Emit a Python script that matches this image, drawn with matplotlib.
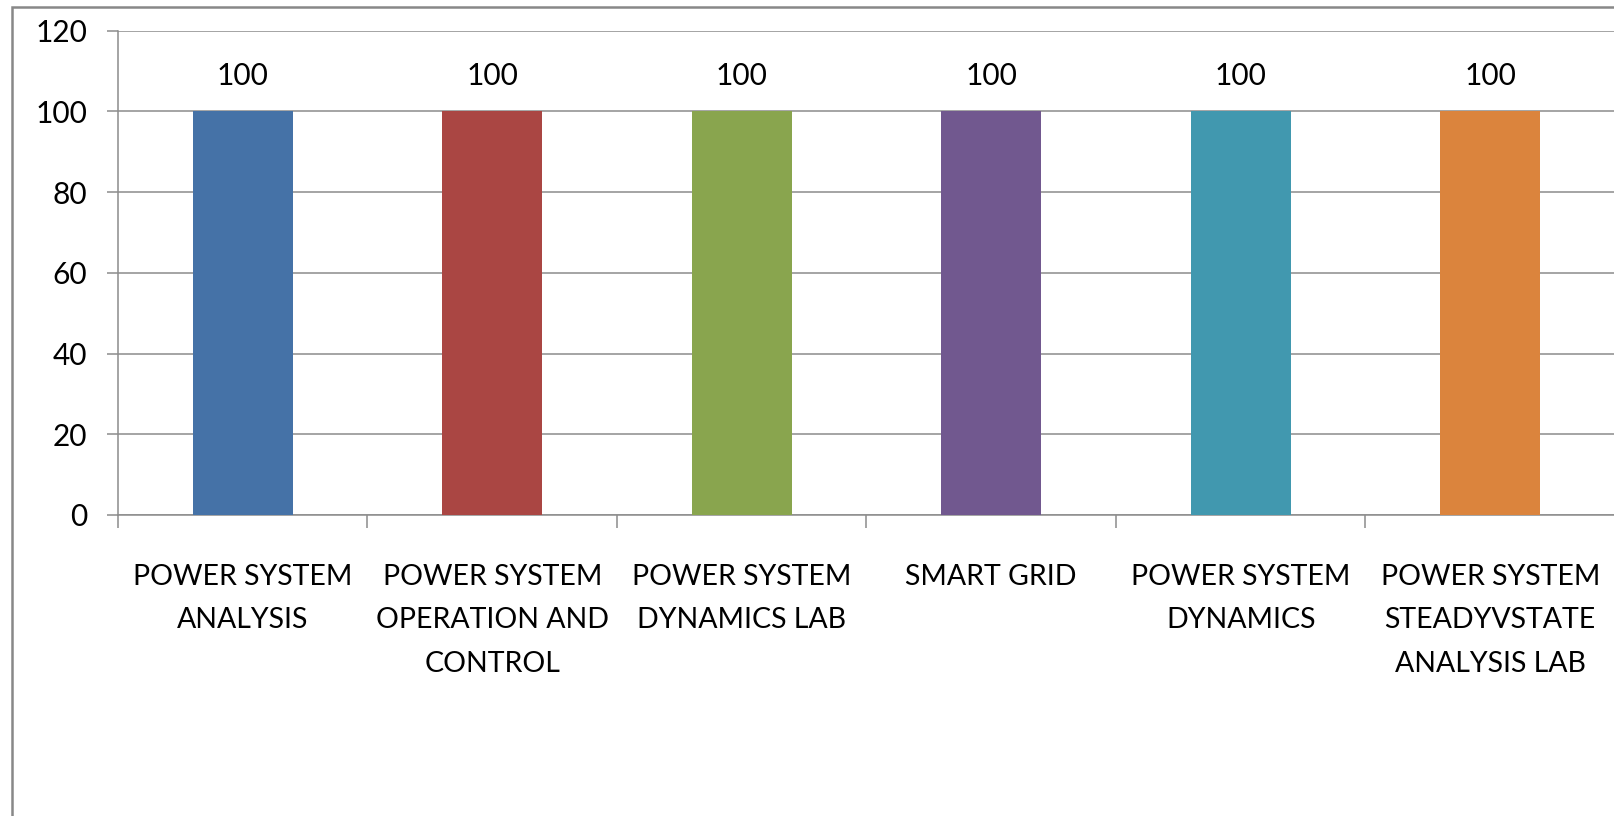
"""
Bar chart: pass percentage per power-system subject.
"""

import matplotlib
matplotlib.use('Agg')
import matplotlib.pyplot as plt
from matplotlib.patches import Rectangle
import numpy as np


subjects = ['POWER SYSTEM\nANALYSIS',
            'POWER SYSTEM\nOPERATION AND\nCONTROL',
            'POWER SYSTEM\nDYNAMICS LAB',
            'SMART GRID',
            'POWER SYSTEM\nDYNAMICS',
            'POWER SYSTEM\nSTEADYVSTATE\nANALYSIS LAB']
values = [100, 100, 100, 100, 100, 100]
colors = ['#4572A7', '#AA4643', '#89A54E', '#71588F', '#4198AF', '#DB843D']
yticks = [0, 20, 40, 60, 80, 100, 120]

grey = '#8c8c8c'
fs = 21.5

plt.rcParams['font.family'] = ['Lato', 'DejaVu Sans']

W, H = 1614, 816
fig = plt.figure(figsize=(W / 100, H / 100), dpi=100)

# outer chart-area border (cropped at right and bottom)
fig.patches.append(Rectangle((12 / W, -0.05), 1.1, 1 - 7 / H + 0.05,
                             transform=fig.transFigure, fill=False,
                             edgecolor='#888888', linewidth=1.8))

left, right = 118 / W, 1615 / W
bottom, top = 1 - 515 / H, 1 - 30.5 / H
ax = fig.add_axes([left, bottom, right - left, top - bottom])

x = np.arange(len(subjects))
bars = ax.bar(x, values, width=0.4, color=colors, zorder=3)
ax.bar_label(bars, labels=[str(v) for v in values], padding=15, fontsize=fs)

ax.set_xlim(-0.5, len(subjects) - 0.5)
ax.set_ylim(0, 120)
ax.set_yticks(yticks)
ax.tick_params(axis='y', labelsize=fs, length=8, width=1.1, color=grey, pad=14)
ax.yaxis.grid(True, color=grey, linewidth=1.1)
ax.set_axisbelow(True)

# category borders as major ticks, labels on minor ticks
ax.set_xticks(np.arange(-0.5, len(subjects) - 0.5, 1.0))
ax.set_xticklabels([])
ax.set_xticks(x, minor=True)
ax.set_xticklabels(subjects, minor=True, fontsize=20.5)
ax.tick_params(axis='x', which='major', length=9.5, width=1.1, color=grey)
ax.tick_params(axis='x', which='minor', length=0, pad=35)
for lbl in ax.get_xticklabels(minor=True):
    lbl.set_linespacing(1.85)

for side in ['top', 'right']:
    ax.spines[side].set_visible(False)
for side in ['left', 'bottom']:
    ax.spines[side].set_color(grey)
    ax.spines[side].set_linewidth(1.1)

fig.savefig('out.png', dpi=100)
